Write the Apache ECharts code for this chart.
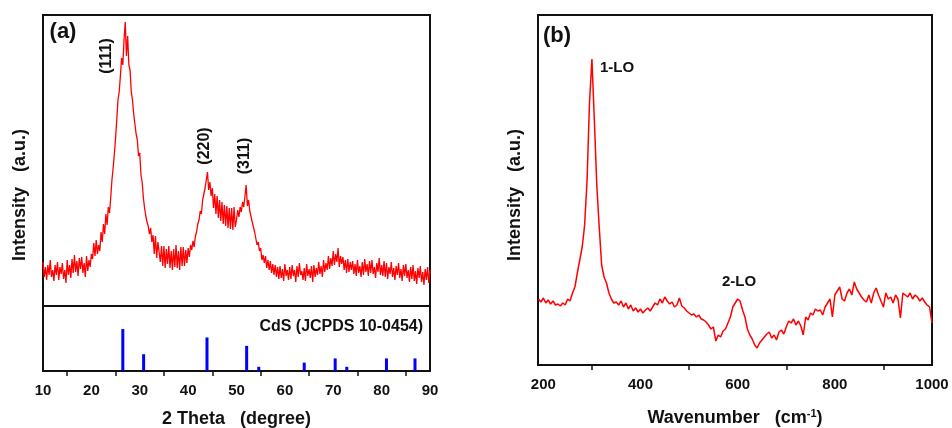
<!DOCTYPE html>
<html lang="en">
<head>
  <meta charset="UTF-8">
  <title>CdS XRD and Raman</title>
  <script src="https://cdn.jsdelivr.net/npm/echarts@6/dist/echarts.min.js"></script>
  <style>
    html, body { margin: 0; padding: 0; background: #fff; }
    #main { width: 952px; height: 428px; }
  </style>
</head>
<body>
  <div id="main"></div>
  <script>
    // (a) XRD pattern, 2 theta 10..90 deg sampled every 0.25 deg (4 values per degree per row)
    var xrdStart = 10, xrdStep = 0.25;
    var xrdIntensity = [
      44, 29, 39, 26,  41, 31, 46, 29,  36, 25, 41, 31,  44, 26, 39, 32,  43, 27, 36, 23,   // 10-14
      46, 31, 41, 28,  47, 33, 51, 34,  45, 30, 48, 37,  49, 33, 43, 29,  50, 35, 46, 39,   // 15-19
      52, 47, 63, 50,  66, 52, 61, 55,  74, 64, 82, 72,  92, 81, 99, 93,  108, 126, 138, 152, // 20-24
      168, 186, 206, 214,  230, 248, 241, 266,  284, 250, 270, 241,  236, 214, 206, 192,  194, 172, 166, 150, // 25-29
      153, 131, 124, 108,  98, 90, 84, 80,  72, 78, 64, 71,  52, 70, 48, 64,  64, 44, 60, 40, // 30-34
      60, 38, 57, 42,  60, 38, 55, 36,  57, 39, 61, 38,  55, 36, 59, 40,  59, 40, 56, 43,   // 35-39
      58, 49, 61, 56,  65, 59, 70, 74,  82, 86, 95, 92,  106, 112, 118, 126,  134, 116, 124, 110, // 40-44
      118, 98, 112, 92,  110, 88, 106, 85,  104, 82, 101, 80,  100, 78, 98, 77,  98, 76, 99, 79, // 45-49
      86, 96, 89, 99,  94, 104, 99, 110,  121, 100, 106, 95,  97, 84, 86, 74,  72, 61, 64, 55, // 50-54
      58, 46, 51, 43,  50, 38, 46, 36,  45, 33, 42, 31,  41, 29, 39, 27,  40, 28, 37, 25,   // 55-59
      42, 30, 36, 26,  39, 27, 41, 30,  36, 24, 40, 29,  43, 31, 35, 26,  38, 25, 42, 30,   // 60-64
      37, 28, 40, 24,  41, 29, 38, 31,  44, 32, 40, 29,  46, 34, 43, 36,  50, 37, 48, 40,   // 65-69
      55, 41, 52, 44,  58, 39, 50, 42,  49, 36, 46, 33,  47, 34, 44, 36,  45, 32, 42, 30,   // 70-74
      46, 33, 40, 29,  44, 31, 47, 34,  42, 30, 45, 33,  46, 32, 39, 28,  43, 34, 48, 31,   // 75-79
      41, 30, 45, 29,  43, 27, 39, 32,  44, 29, 38, 26,  40, 31, 43, 28,  37, 25, 41, 30,   // 80-84
      42, 28, 36, 24,  39, 27, 41, 25,  35, 22, 38, 28,  40, 24, 34, 21,  37, 26, 39, 23,   // 85-89
      36
    ];

    // CdS reference lines (JCPDS 10-0454)
    var refAngle = [26.5, 30.8, 43.9, 52.1, 54.6, 64.0, 70.4, 72.8, 81.0, 86.9];
    var refIntensity = [100, 40, 80, 60, 10, 20, 30, 10, 30, 30];

    // (b) Raman spectrum, 190..1000 cm-1 every 5 cm-1
    var ramanStart = 190, ramanStep = 5;
    var ramanIntensity = [
      66, 63, 67, 62, 65, 61, 64, 60, 61, 59,
      62, 60, 66, 64, 72, 78, 92, 105, 118, 140,
      185, 262, 306, 245, 180, 138, 100, 88, 82, 72,
      66, 62, 63, 60, 64, 58, 62, 56, 60, 54,
      57, 53, 56, 52, 55, 57, 54, 58, 62, 60,
      66, 62, 68, 64, 61, 63, 58, 60, 67, 59,
      57, 54, 52, 50, 51, 48, 50, 46, 45, 43,
      40, 36, 38, 24, 30, 28, 34, 36, 42, 48,
      58, 62, 66, 64, 55, 48, 36, 30, 26, 20,
      17, 22, 25, 28, 31, 33, 27, 30, 25, 33,
      35, 31, 38, 44, 42, 46, 40, 44, 39, 30,
      48, 45, 52, 50, 56, 54, 55, 50, 58, 62,
      66, 48, 70, 74, 78, 66, 64, 72, 76, 70,
      83, 76, 72, 68, 65, 63, 70, 62, 72, 77,
      70, 64, 58, 72, 66, 68, 62, 70, 66, 47,
      72, 70, 68, 72, 66, 70, 68, 64, 67, 63,
      60, 58, 42
    ];

    // axis ticks
    var xrdLabels = [10, 20, 30, 40, 50, 60, 70, 80, 90];
    var xrdMinor = [15, 25, 35, 45, 55, 65, 75, 85];
    var ramanLabels = [200, 400, 600, 800, 1000];
    var ramanMinor = [300, 500, 700, 900];

    var xrdData = xrdIntensity.map(function (v, i) { return [xrdStart + i * xrdStep, v]; });
    var refData = refAngle.map(function (a, i) { return [a, refIntensity[i]]; });
    var ramanData = ramanIntensity.map(function (v, i) { return [ramanStart + i * ramanStep, v]; });

    var FONT = '"Liberation Sans", Arial, sans-serif';
    var boxGrid = { show: true, borderColor: '#111', borderWidth: 2, backgroundColor: 'transparent', outerBoundsMode: 'none' };

    function bottomAxis(idx, min, max, labels, minor, name, gap, margin, extra) {
      var ax = {
        type: 'value', gridIndex: idx, min: min, max: max,
        axisLine: { show: false },
        splitLine: { show: false },
        axisTick: { show: true, customValues: minor, length: 5, lineStyle: { color: '#111', width: 1.5 } },
        axisLabel: {
          customValues: labels, margin: margin, color: '#111',
          fontFamily: FONT, fontWeight: 'bold', fontSize: 15,
          formatter: function (v) { return String(v); }
        },
        name: name, nameLocation: 'middle', nameGap: gap,
        nameTextStyle: { color: '#111', fontFamily: FONT, fontWeight: 'bold', fontSize: 18 }
      };
      if (extra) ax.nameTextStyle.rich = extra;
      return ax;
    }

    function txt(text, x, y, size, opts) {
      opts = opts || {};
      return {
        type: 'text', x: x, y: y, rotation: opts.rot || 0,
        style: {
          text: text, fill: '#111', align: opts.align || 'center', verticalAlign: 'middle',
          font: 'bold ' + size + 'px ' + FONT
        }
      };
    }

    var chart = echarts.init(document.getElementById('main'));
    chart.setOption({
      animation: false,
      backgroundColor: '#fff',
      grid: [
        Object.assign({ left: 43, top: 15, width: 387, height: 291 }, boxGrid),
        Object.assign({ left: 43, top: 306, width: 387, height: 65 }, boxGrid),
        Object.assign({ left: 538, top: 15, width: 394, height: 350 }, boxGrid)
      ],
      xAxis: [
        { type: 'value', gridIndex: 0, min: 10, max: 90, show: false },
        bottomAxis(1, 10, 90, xrdLabels, xrdMinor, '2 Theta   (degree)', 39, 12),
        bottomAxis(2, 189, 1000, ramanLabels, ramanMinor, 'Wavenumber   (cm{sup|-1})', 43, 12,
          { sup: { fontSize: 11, fontWeight: 'bold', fontFamily: FONT, color: '#111', verticalAlign: 'top', padding: [0, 0, 10, 0] } })
      ],
      yAxis: [
        { type: 'value', gridIndex: 0, min: 0, max: 291, show: false },
        { type: 'value', gridIndex: 1, min: 0, max: 155, show: false },
        { type: 'value', gridIndex: 2, min: 0, max: 350, show: false }
      ],
      series: [
        {
          type: 'line', xAxisIndex: 0, yAxisIndex: 0, data: xrdData,
          showSymbol: false, lineStyle: { color: '#ff0000', width: 1.3 }
        },
        {
          type: 'bar', xAxisIndex: 1, yAxisIndex: 1, data: refData,
          barWidth: 3, itemStyle: { color: '#0000ff' }
        },
        {
          type: 'line', xAxisIndex: 2, yAxisIndex: 2, data: ramanData,
          showSymbol: false, lineStyle: { color: '#ff0000', width: 1.5 }
        }
      ],
      graphic: [
        txt('(a)', 63, 32, 22),
        txt('(b)', 557, 36, 22),
        txt('(111)', 107, 56, 16, { rot: Math.PI / 2 }),
        txt('(220)', 205, 146, 16, { rot: Math.PI / 2 }),
        txt('(311)', 245, 156, 16, { rot: Math.PI / 2 }),
        txt('CdS (JCPDS 10-0454)', 423, 327, 16, { align: 'right' }),
        txt('1-LO', 600, 68, 15, { align: 'left' }),
        txt('2-LO', 722, 282, 15, { align: 'left' }),
        txt('Intensity   (a.u.)', 20, 195, 18, { rot: Math.PI / 2 }),
        txt('Intensity   (a.u.)', 515, 195, 18, { rot: Math.PI / 2 })
      ]
    });
  </script>
</body>
</html>
